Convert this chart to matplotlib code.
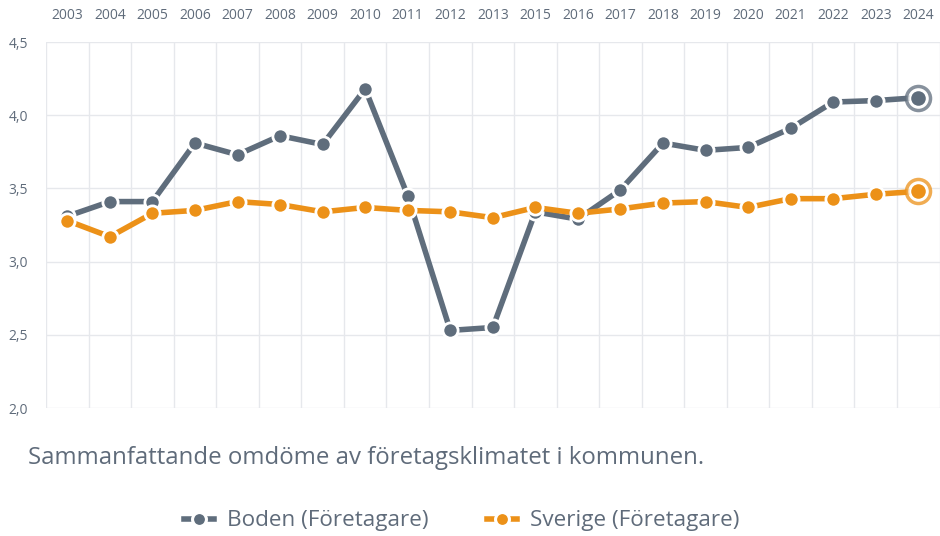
#!/usr/bin/env python3
"""Line chart: Sammanfattande omdöme av företagsklimatet, Boden vs Sverige."""

import matplotlib
matplotlib.use("Agg")
import matplotlib.pyplot as plt
import numpy as np
from matplotlib.lines import Line2D

plt.rcParams["font.family"] = ["Open Sans", "DejaVu Sans"]

# Data
years = ["2003", "2004", "2005", "2006", "2007", "2008", "2009", "2010", "2011", "2012",
         "2013", "2015", "2016", "2017", "2018", "2019", "2020", "2021", "2022", "2023", "2024"]
boden = [3.31, 3.41, 3.41, 3.81, 3.73, 3.86, 3.80, 4.18, 3.45, 2.53,
         2.55, 3.34, 3.29, 3.49, 3.81, 3.76, 3.78, 3.91, 4.09, 4.10, 4.12]
sverige = [3.28, 3.17, 3.33, 3.35, 3.41, 3.39, 3.34, 3.37, 3.35, 3.34,
           3.30, 3.37, 3.33, 3.36, 3.40, 3.41, 3.37, 3.43, 3.43, 3.46, 3.48]
y_ticks = [2.0, 2.5, 3.0, 3.5, 4.0, 4.5]
series_names = ["Boden (Företagare)", "Sverige (Företagare)"]

GREY = "#5f6d7c"
ORANGE = "#ec9118"
TEXT = "#5f6b7a"
GRID = "#e6e8ec"

fig = plt.figure(figsize=(9.4, 5.36), dpi=100)
ax = fig.add_axes([0.049, 0.2388, 0.9505, 0.6828])

x = np.arange(len(years))
for vals, col, z in [(boden, GREY, 3), (sverige, ORANGE, 4)]:
    ax.plot(x, vals, color=col, lw=4, zorder=z, solid_capstyle="round")
    ax.scatter(x, vals, s=120, color=col, edgecolor="white", linewidth=2, zorder=z + 0.5)
    # highlighted last point: ring around the dot
    ax.scatter(x[-1], vals[-1], s=300, facecolor="white", edgecolor=col, alpha=0.75,
               linewidth=2.5, zorder=z + 0.6)
    ax.scatter(x[-1], vals[-1], s=110, color=col, linewidth=0, zorder=z + 0.7)

ax.set_xlim(-0.5, len(years) - 0.5)
ax.set_ylim(2.0, 4.5)

ax.set_yticks(y_ticks)
ax.set_yticklabels([f"{v:.1f}".replace(".", ",") for v in y_ticks])
ax.xaxis.tick_top()
ax.set_xticks(x)
ax.set_xticklabels(years)
ax.set_xticks(np.arange(-0.5, len(years)), minor=True)
ax.tick_params(axis="both", which="both", length=0, colors=TEXT, labelsize=10)
ax.tick_params(axis="x", which="major", pad=14)
ax.tick_params(axis="y", pad=13)

ax.grid(True, axis="y", which="major", color=GRID, lw=1)
ax.grid(True, axis="x", which="minor", color=GRID, lw=1)
ax.grid(False, axis="x", which="major")
ax.set_axisbelow(True)
for s in ax.spines.values():
    s.set_visible(False)

fig.text(0.030, 0.145, "Sammanfattande omdöme av företagsklimatet i kommunen.",
         color=TEXT, fontsize=17.3, va="center", ha="left")

# legend handle: short dash, dot with white rim, short dash
handles = [
    Line2D([0], [0], color=c, lw=4, marker="o", markersize=10,
           markeredgecolor="white", markeredgewidth=2.2)
    for c in (GREY, ORANGE)
]
leg = fig.legend(handles, series_names, loc="center", bbox_to_anchor=(0.491, 0.028),
                 ncol=2, frameon=False, fontsize=16.2, handlelength=1.35,
                 columnspacing=2.6, handletextpad=0.55)
for t in leg.get_texts():
    t.set_color(TEXT)

fig.savefig("out.png", dpi=100)
